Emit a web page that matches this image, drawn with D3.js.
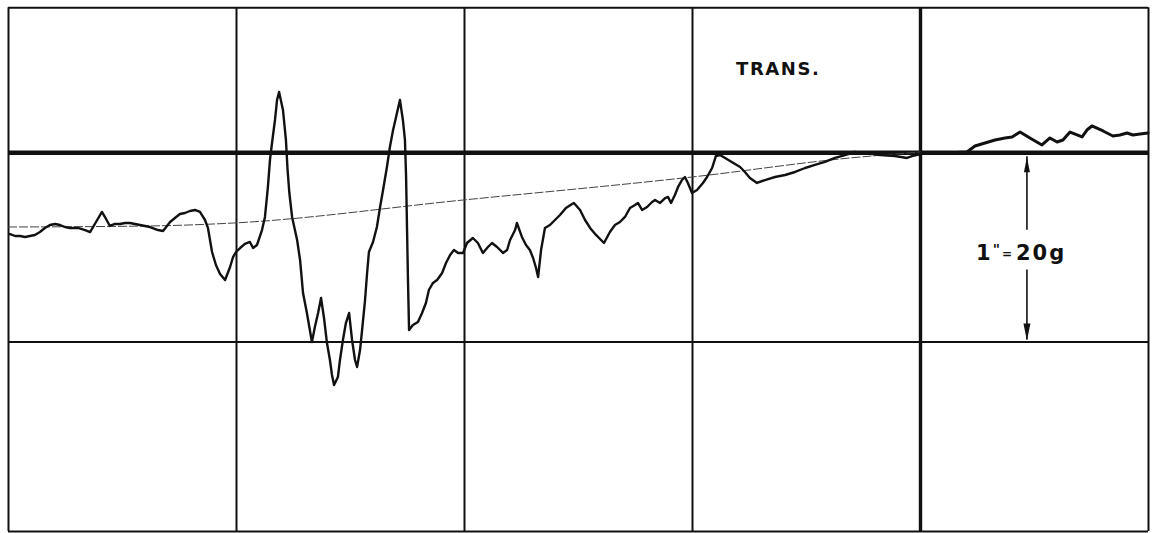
<!DOCTYPE html>
<html>
<head>
<meta charset="utf-8">
<script src="https://cdn.jsdelivr.net/npm/d3@7"></script>
<style>
  html, body { margin: 0; padding: 0; background: #fff; }
  svg { display: block; }
  .lbl { font-family: "DejaVu Sans", "Liberation Sans", sans-serif; font-weight: bold; fill: #111; }
</style>
</head>
<body>
<svg id="chart" width="1155" height="533"></svg>
<script>
// Transverse acceleration record; time in ms (100 ms per grid division), acceleration in g.
const timeTicks  = [0, 100, 200, 300, 400, 500];
const accelTicks = [15.3, 0, -20, -40];

const traceTime = [
  0.9, 3.1, 5.3, 7.5, 9.6, 11.8, 14.0, 16.2, 18.4, 20.6, 22.8, 25.0, 27.2, 30.7, 33.8, 36.0,
  38.6, 41.2, 43.0, 44.7, 46.9, 49.1, 51.3, 53.5, 55.7, 57.9, 62.3, 65.8, 68.0, 71.1, 73.2, 75.4,
  77.6, 79.8, 82.0, 84.2, 86.4, 87.7, 89.5, 91.2, 93.0, 95.2, 97.4, 98.7, 100.0, 101.8, 103.9, 106.1,
  107.5, 109.2, 111.4, 112.7, 114.0, 114.9, 115.8, 117.1, 118.0, 118.9, 120.6, 121.9, 122.6, 123.4,
  124.6, 126.8, 128.1, 129.4, 131.1, 133.3, 134.6, 136.0, 137.3, 138.6, 139.9, 141.2, 142.1, 143.0,
  144.7, 145.6, 146.9, 148.2, 149.6, 150.9, 152.2, 153.1, 154.4, 155.3, 156.6, 157.5, 158.3, 160.1,
  161.8, 163.2, 164.5, 166.2, 167.5, 168.9, 170.6, 171.9, 173.2, 174.1, 174.6, 175.0, 175.4, 175.9,
  177.6, 179.8, 181.6, 183.3, 184.6, 186.4, 188.2, 190.4, 192.1, 193.9, 195.6, 197.4, 199.6, 201.3,
  203.9, 206.1, 208.3, 210.5, 212.3, 214.5, 217.1, 218.9, 220.2, 222.4, 223.2, 225.4, 227.2, 228.9,
  230.3, 231.6, 232.5, 233.8, 235.5, 237.7, 239.9, 242.1, 244.7, 247.4, 248.2, 250.9, 253.1, 255.3,
  257.9, 260.1, 261.4, 264.0, 266.2, 268.4, 270.6, 272.8, 275.0, 276.3, 278.1, 280.3, 282.5, 283.8,
  286.0, 288.2, 289.5, 290.8, 292.5, 293.9, 295.6, 296.9, 298.2, 300.0, 302.2, 304.8, 306.6, 308.8,
  310.5, 312.3, 314.5, 316.7, 321.1, 323.2, 325.4, 328.5, 332.0, 336.4, 340.8, 345.2, 349.6, 353.9,
  358.3, 362.7, 367.1, 371.5, 375.9, 382.5, 389.0, 394.3, 397.8, 402.2, 411.0, 420.6, 424.1, 428.5,
  432.9, 437.3, 440.4, 443.9, 448.2, 453.5, 457.0, 460.1, 462.7, 465.8, 468.9, 471.1, 473.2, 475.4,
  480.3, 484.6, 487.7, 490.8, 493.4, 496.5, 500.0
];
const traceAccel = [
  -8.64, -8.85, -8.85, -8.95, -8.85, -8.74, -8.43, -8.00, -7.69, -7.58, -7.69, -7.90, -8.00, -8.00, -8.22, -8.43,
  -7.37, -6.31, -7.05, -7.79, -7.58, -7.58, -7.48, -7.48, -7.58, -7.69, -7.90, -8.22, -8.32, -7.37, -6.95, -6.53,
  -6.42, -6.21, -6.10, -6.31, -7.16, -8.00, -10.54, -11.91, -12.86, -13.50, -12.12, -11.07, -10.54, -10.12, -9.69, -9.48,
  -10.12, -9.80, -8.22, -6.84, -3.67, -0.82, 0.97, 3.40, 5.51, 6.36, 4.46, 1.29, -1.80, -4.31,
  -6.84, -9.27, -11.38, -14.87, -16.98, -20.04, -18.46, -16.98, -15.40, -17.51, -20.15, -21.94, -23.53, -24.58,
  -23.74, -21.94, -19.83, -18.04, -16.98, -19.83, -21.94, -22.68, -20.89, -18.78, -15.61, -12.76, -10.54, -9.48,
  -7.90, -5.79, -3.99, -1.56, 0.55, 2.34, 4.14, 5.51, 3.40, 1.29, -2.62, -7.90, -13.18, -18.78,
  -18.25, -17.93, -16.98, -15.92, -14.55, -13.81, -13.50, -12.76, -11.70, -10.86, -10.33, -10.64, -10.64, -9.59,
  -9.06, -9.59, -10.64, -10.01, -9.59, -10.01, -10.64, -10.33, -9.27, -8.22, -7.48, -8.95, -9.80, -10.33,
  -11.17, -12.23, -13.18, -10.33, -8.00, -7.69, -7.16, -6.63, -5.89, -5.47, -5.36, -6.10, -7.16, -8.00,
  -8.74, -9.27, -9.59, -8.43, -7.69, -7.37, -6.84, -5.89, -5.58, -5.36, -6.10, -5.79, -5.26, -5.05,
  -5.36, -4.84, -4.73, -5.36, -4.52, -3.67, -2.94, -2.62, -3.25, -4.31, -3.99, -3.25, -2.62, -1.67,
  -0.40, -0.30, -0.61, -0.93, -1.56, -2.09, -2.72, -3.25, -2.94, -2.62, -2.41, -2.09, -1.67, -1.35,
  -1.03, -0.61, -0.30, 0.02, -0.08, -0.30, -0.40, -0.61, -0.30, -0.08, -0.08, 0.02, 0.65, 0.97,
  1.29, 1.50, 1.61, 2.13, 1.50, 0.76, 1.50, 1.08, 1.29, 2.13, 1.82, 1.61, 2.34, 2.77,
  2.24, 1.71, 1.82, 2.03, 1.82, 1.92, 2.03
];

// Faired zero-drift reference line
const driftTime  = [0, 62.3, 98.7, 199.6, 300.0, 369.3, 400.4];
const driftAccel = [-7.90, -7.79, -7.48, -5.05, -2.62, -0.61, 0.02];

// Scale bar: 1 inch = 20 g
const scaleBarTime = 446.9;
const scaleBarFrom = 0;
const scaleBarTo   = -20;

const svg = d3.select("#chart");
const x = d3.scaleLinear().domain([0, 500]).range([8, 1148]);
const y = d3.scaleLinear().domain([-40, 15.3]).range([531, 7.3]);

const ink = "#111";

// Vertical grid lines from the time axis
const vAxis = svg.append("g")
  .attr("transform", `translate(0,${y(15.3)})`)
  .call(d3.axisTop(x).tickValues(timeTicks).tickFormat("").tickSize(-(y(-40) - y(15.3))));
vAxis.select(".domain").remove();
vAxis.selectAll(".tick line")
  .attr("stroke", ink)
  .attr("stroke-width", d => d === 400 ? 3.4 : 2);

// Horizontal grid lines from the acceleration axis
const hAxis = svg.append("g")
  .attr("transform", `translate(${x(0)},0)`)
  .call(d3.axisLeft(y).tickValues(accelTicks).tickFormat("").tickSize(-(x(500) - x(0))));
hAxis.select(".domain").remove();
hAxis.selectAll(".tick line")
  .attr("stroke", ink)
  .attr("stroke-width", d => d === 0 ? 4.6 : 2);

// Drift reference line
const driftData = driftTime.map((t, i) => [t, driftAccel[i]]);
svg.append("path")
  .datum(driftData)
  .attr("fill", "none")
  .attr("stroke", "#444")
  .attr("stroke-width", 1)
  .attr("stroke-dasharray", "9 2")
  .attr("d", d3.line().x(d => x(d[0])).y(d => y(d[1])).curve(d3.curveMonotoneX));

// Acceleration trace
const traceData = traceTime.map((t, i) => [t, traceAccel[i]]);
const traceLine = d3.line().x(d => x(d[0])).y(d => y(d[1]));
svg.append("path")
  .datum(traceData.filter(d => d[0] <= 400))
  .attr("fill", "none")
  .attr("stroke", ink)
  .attr("stroke-width", 2.4)
  .attr("stroke-linejoin", "round")
  .attr("stroke-linecap", "round")
  .attr("d", traceLine);
svg.append("path")
  .datum(traceData.filter(d => d[0] >= 397))
  .attr("fill", "none")
  .attr("stroke", ink)
  .attr("stroke-width", 3)
  .attr("stroke-linejoin", "round")
  .attr("stroke-linecap", "round")
  .attr("d", traceLine);

// Title
svg.append("text")
  .attr("class", "lbl")
  .attr("x", 736)
  .attr("y", 75)
  .attr("font-size", 18)
  .attr("letter-spacing", 1.6)
  .text("TRANS.");

// Scale bar with arrowheads
const sx = x(scaleBarTime);
const gapTop = y(-8.2), gapBottom = y(-12.4);
svg.append("line")
  .attr("x1", sx).attr("x2", sx)
  .attr("y1", y(scaleBarFrom) + 4).attr("y2", gapTop)
  .attr("stroke", ink).attr("stroke-width", 1.6);
svg.append("line")
  .attr("x1", sx).attr("x2", sx)
  .attr("y1", gapBottom).attr("y2", y(scaleBarTo) - 2)
  .attr("stroke", ink).attr("stroke-width", 1.6);

const upTip = y(scaleBarFrom) + 5, upBase = upTip + 15;
svg.append("path")
  .attr("d", `M${sx},${upTip} L${sx - 3},${upBase} L${sx + 3},${upBase} Z`)
  .attr("fill", ink);
const dnTip = y(scaleBarTo) - 1, dnBase = dnTip - 17;
svg.append("path")
  .attr("d", `M${sx},${dnTip} L${sx - 3.5},${dnBase} L${sx + 3.5},${dnBase} Z`)
  .attr("fill", ink);

// Scale label
const scaleLabel = svg.append("text")
  .attr("class", "lbl")
  .attr("x", 976)
  .attr("y", 260)
  .attr("font-size", 21);
scaleLabel.append("tspan").text("1");
scaleLabel.append("tspan").attr("dx", 2).attr("dy", -6).attr("font-size", 14).text("\"");
scaleLabel.append("tspan").attr("dx", 2).attr("dy", 4).attr("font-size", 12).text("=");
scaleLabel.append("tspan").attr("dx", 4).attr("dy", 2).attr("letter-spacing", 2).text("20g");
</script>
</body>
</html>
